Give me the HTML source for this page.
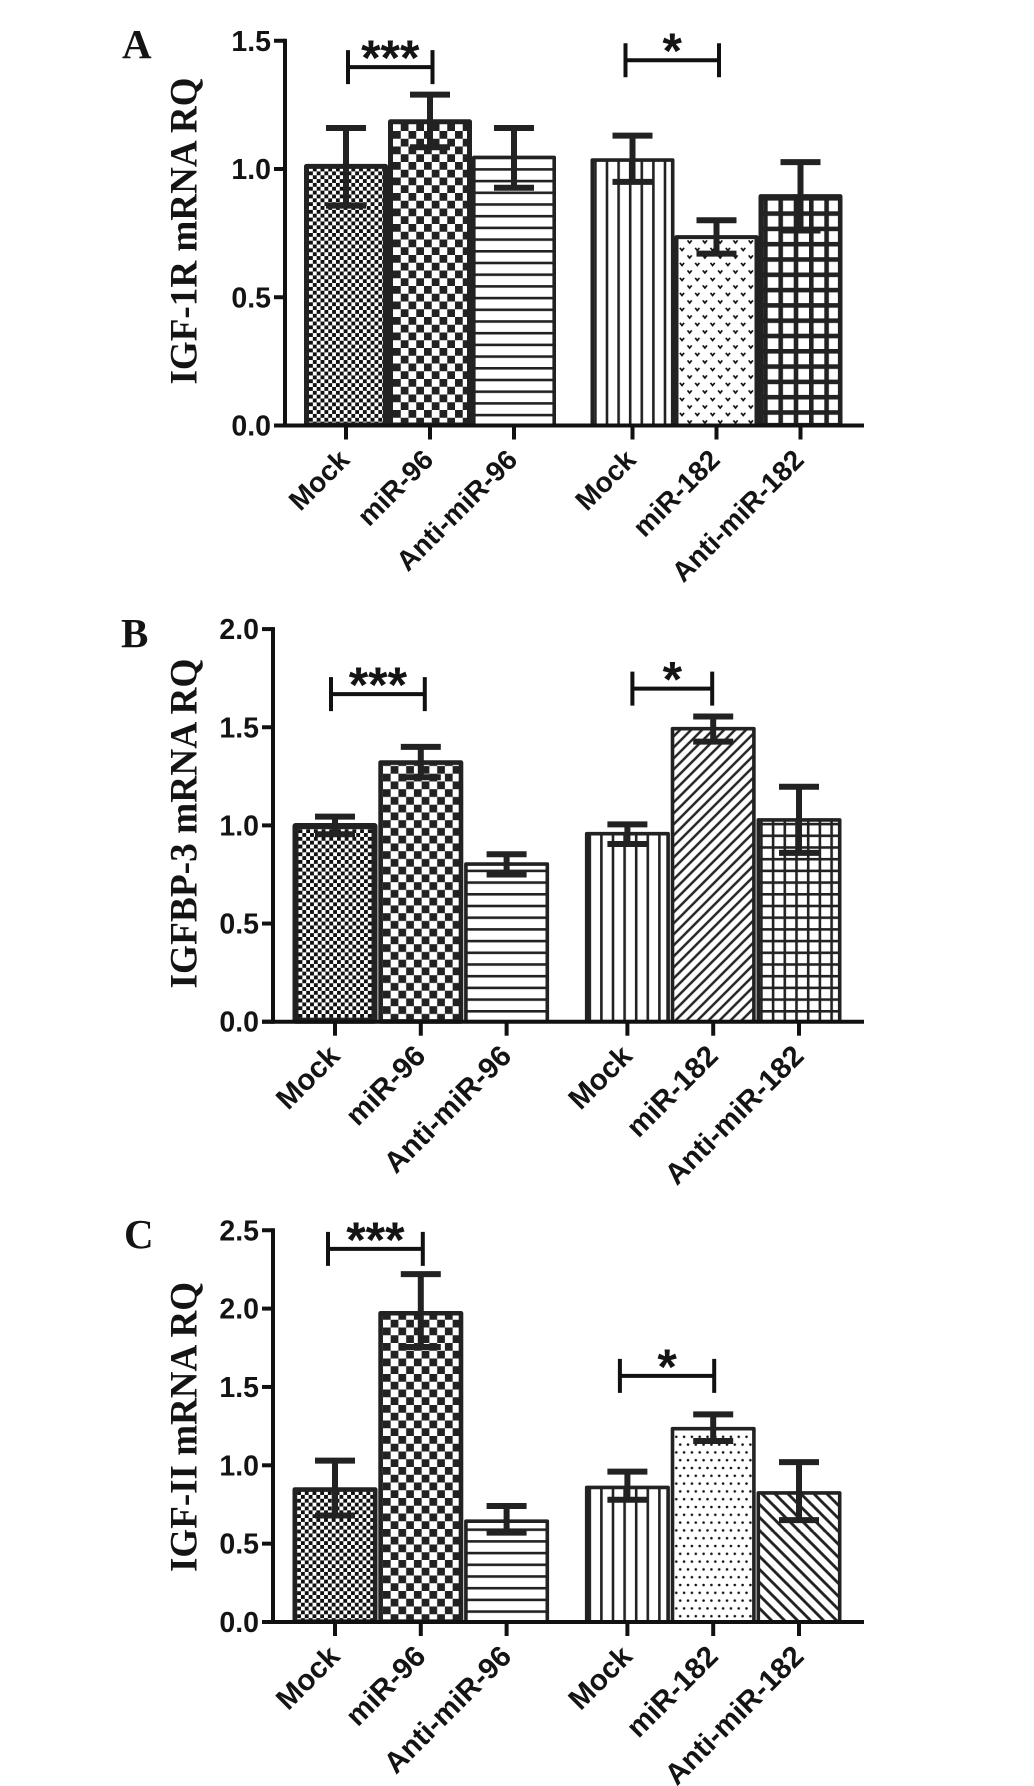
<!DOCTYPE html>
<html lang="en">
<head>
<meta charset="utf-8">
<title>IGF mRNA RQ bar charts</title>
<style>
html,body{margin:0;padding:0;background:#fff;width:1034px;height:1786px;overflow:hidden}
svg{display:block}
.tick{font:bold 28.5px "Liberation Sans",sans-serif;fill:#141414}
.cat{font:bold 28.5px "Liberation Sans",sans-serif;fill:#141414}
.title{font:bold 39px "Liberation Serif",serif;fill:#141414}
.letter{font:bold 41px "Liberation Serif",serif;fill:#141414}
.star{font:bold 50px "Liberation Sans",sans-serif;fill:#141414}
</style>
</head>
<body>
<svg id="figure" xmlns="http://www.w3.org/2000/svg" width="1034" height="1786" viewBox="0 0 1034 1786">
  <defs id="pattern-defs"></defs>
  <rect x="0" y="0" width="1034" height="1786" fill="#fff"/>
  <text class="letter" x="122" y="58">A</text>
  <text class="letter" x="121" y="647">B</text>
  <text class="letter" x="124" y="1248">C</text>
  <g id="panel-a"></g>
  <g id="panel-b"></g>
  <g id="panel-c"></g>
</svg>
<script>
// ---- chart data ----
const categories = ['Mock', 'miR-96', 'Anti-miR-96', 'Mock', 'miR-182', 'Anti-miR-182'];

const igf1rValues  = [1.02, 1.194, 1.052, 1.042, 0.742, 0.902];
const igf1rErrHigh = [1.16, 1.29, 1.16, 1.13, 0.80, 1.027];
const igf1rErrLow  = [0.857, 1.085, 0.927, 0.95, 0.67, 0.76];
const igf1rTicks   = ['0.0', '0.5', '1.0', '1.5'];
const igf1rBrackets = [1.397, 1.424];

const igfbp3Values  = [1.012, 1.332, 0.812, 0.967, 1.502, 1.037];
const igfbp3ErrHigh = [1.045, 1.40, 0.853, 1.005, 1.555, 1.197];
const igfbp3ErrLow  = [0.955, 1.245, 0.75, 0.905, 1.427, 0.86];
const igfbp3Ticks   = ['0.0', '0.5', '1.0', '1.5', '2.0'];
const igfbp3Brackets = [1.669, 1.697];

const igf2Values  = [0.86, 1.985, 0.655, 0.87, 1.245, 0.835];
const igf2ErrHigh = [1.03, 2.22, 0.74, 0.96, 1.325, 1.02];
const igf2ErrLow  = [0.68, 1.755, 0.57, 0.78, 1.155, 0.65];
const igf2Ticks   = ['0.0', '0.5', '1.0', '1.5', '2.0', '2.5'];
const igf2Brackets = [2.381, 1.571];

const bracketStars = ['***', '*'];

// ---- layout ----
const SVGNS = 'http://www.w3.org/2000/svg';
const INK = '#222';
const defs = document.getElementById('pattern-defs');
let patternId = 0;

function make(tag, attrs, parent) {
  const el = document.createElementNS(SVGNS, tag);
  for (const k in attrs) el.setAttribute(k, attrs[k]);
  if (parent) parent.appendChild(el);
  return el;
}

// Pattern painters: each draws one tile
const painters = {
  fineCheck(p) {
    const c = 3.85;
    p.w = p.h = c * 2;
    make('rect', {x: 0, y: 0, width: c, height: c, fill: '#111'}, p.el);
    make('rect', {x: c, y: c, width: c, height: c, fill: '#111'}, p.el);
  },
  coarseCheck(p) {
    const c = 7.75;
    p.w = p.h = c * 2;
    make('rect', {x: 0, y: 0, width: c, height: c, fill: INK}, p.el);
    make('rect', {x: c, y: c, width: c, height: c, fill: INK}, p.el);
  },
  hLines(p) {
    p.w = 12; p.h = 11.7;
    make('rect', {x: 0, y: 0, width: 12, height: 2.6, fill: INK}, p.el);
  },
  vLines(p) {
    p.w = 11.6; p.h = 12;
    make('rect', {x: 0, y: 0, width: 2.6, height: 12, fill: INK}, p.el);
  },
  boldGrid(p) {
    p.w = p.h = 15.3;
    make('rect', {x: 0, y: 0, width: 15.3, height: 4.6, fill: INK}, p.el);
    make('rect', {x: 0, y: 0, width: 4.6, height: 15.3, fill: INK}, p.el);
  },
  fineGrid(p) {
    p.w = p.h = 11.7;
    make('rect', {x: 0, y: 0, width: 11.7, height: 2.6, fill: INK}, p.el);
    make('rect', {x: 0, y: 0, width: 2.6, height: 11.7, fill: INK}, p.el);
  },
  diagUp(p) {
    p.w = p.h = 11;
    make('path', {d: 'M-2 13 L13 -2 M-2 2 L2 -2 M9 13 L13 9', stroke: INK, 'stroke-width': 2.4, fill: 'none'}, p.el);
  },
  diagDown(p) {
    p.w = p.h = 13;
    make('path', {d: 'M-2 -2 L15 15 M-2 11 L2 15 M11 -2 L15 2', stroke: INK, 'stroke-width': 2.9, fill: 'none'}, p.el);
  },
  dots(p) {
    p.w = 7.8; p.h = 15.6;
    make('circle', {cx: 2, cy: 2, r: 1.3, fill: '#111'}, p.el);
    make('circle', {cx: 5.9, cy: 9.8, r: 1.3, fill: '#111'}, p.el);
  },
  vees(p) {
    p.w = 15.3; p.h = 15;
    make('path', {d: 'M1.4 2.4 L3.5 5 L5.6 2.4', stroke: '#111', 'stroke-width': 1.7, fill: 'none'}, p.el);
    make('path', {d: 'M9 9.9 L11.1 12.5 L13.2 9.9', stroke: '#111', 'stroke-width': 1.7, fill: 'none'}, p.el);
  }
};

function patternFor(kind, originX, originY) {
  const id = 'pat' + (patternId++);
  const pat = make('pattern', {id: id, patternUnits: 'userSpaceOnUse'}, defs);
  const tile = {el: pat};
  painters[kind](tile);
  pat.setAttribute('width', tile.w);
  pat.setAttribute('height', tile.h);
  pat.setAttribute('x', originX);
  pat.setAttribute('y', originY);
  return id;
}

function drawPanel(cfg) {
  const g = document.getElementById(cfg.host);
  const yScale = v => cfg.zeroY - v * cfg.unit;
  const xScale = i => cfg.firstX + cfg.step * i + (i >= 3 ? cfg.gap : 0);

  // bars
  categories.forEach((name, i) => {
    const cx = xScale(i);
    const left = cx - cfg.barW / 2;
    const top = yScale(cfg.values[i]);
    const sw = cfg.strokes[i];
    const bottomInset = Math.max(0, sw / 2 - 2);
    const bar = make('rect', {
      x: left + sw / 2, y: top + sw / 2,
      width: cfg.barW - sw, height: cfg.zeroY - top - sw / 2 - bottomInset,
      fill: '#fff'
    }, g);
    
    
    const id = patternFor(cfg.patterns[i], left + sw, cfg.zeroY);
    const hatch = make('rect', {
      x: left + sw / 2, y: top + sw / 2,
      width: cfg.barW - sw, height: cfg.zeroY - top - sw / 2 - bottomInset,
      fill: 'url(#' + id + ')', stroke: INK, 'stroke-width': sw, 'stroke-linejoin': 'round'
    }, g);
    
    
  });

  // error bars
  categories.forEach((name, i) => {
    const cx = xScale(i);
    const hi = yScale(cfg.errHigh[i]);
    const lo = yScale(cfg.errLow[i]);
    const stem = make('line', {x1: cx, x2: cx, y1: hi, y2: lo, stroke: INK, 'stroke-width': 6}, g);
    
    
    const capTop = make('line', {x1: cx - 20, x2: cx + 20, y1: hi, y2: hi, stroke: INK, 'stroke-width': 6}, g);
    
    
    const capLow = make('line', {x1: cx - 20, x2: cx + 20, y1: lo, y2: lo, stroke: INK, 'stroke-width': 6}, g);
    
    
  });

  // axes
  const yAxis = make('line', {x1: cfg.axisX, x2: cfg.axisX, y1: yScale(Number(cfg.ticks[cfg.ticks.length - 1])) - 2, y2: cfg.zeroY + 2, stroke: '#111', 'stroke-width': 4}, g);
  
  
  const xAxis = make('line', {x1: cfg.axisX - 11, x2: 864, y1: cfg.zeroY, y2: cfg.zeroY, stroke: '#111', 'stroke-width': 4}, g);
  
  

  // y ticks
  cfg.ticks.forEach(label => {
    const y = yScale(Number(label));
    const tick = make('line', {x1: cfg.axisX - 11, x2: cfg.axisX, y1: y, y2: y, stroke: '#111', 'stroke-width': 4}, g);
    
    
    const text = make('text', {class: 'tick', x: cfg.axisX - 14, y: y + 10, 'text-anchor': 'end'}, g);
    text.textContent = label;
    
    
  });

  // x ticks + labels
  categories.forEach((name, i) => {
    const cx = xScale(i);
    const tick = make('line', {x1: cx, x2: cx, y1: cfg.zeroY, y2: cfg.zeroY + 14, stroke: '#111', 'stroke-width': 4}, g);
    
    
    const lx = cx + cfg.catDx;
    const ly = cfg.zeroY + 36;
    const text = make('text', {class: 'cat', x: lx, y: ly, 'text-anchor': 'end', transform: 'rotate(-45 ' + lx + ' ' + ly + ')', style: 'font-size:' + cfg.catSize + 'px'}, g);
    text.textContent = name;
    
    
  });

  // y title
  const title = make('text', {
    class: 'title', 'text-anchor': 'middle', x: 0, y: 0,
    textLength: cfg.titleLen, lengthAdjust: 'spacingAndGlyphs',
    transform: 'translate(196.5 ' + cfg.titleY + ') rotate(-90)'
  }, g);
  title.textContent = cfg.title;
  
  

  // significance brackets
  cfg.brackets.forEach((value, k) => {
    const from = xScale(k === 0 ? 0 : 3) + cfg.bracketOffsets[k][0];
    const to = xScale(k === 0 ? 1 : 4) + cfg.bracketOffsets[k][1];
    const y = yScale(value);
    const line = make('path', {
      d: 'M' + from + ' ' + (y - 17) + ' V' + (y + 17) + ' M' + from + ' ' + y + ' H' + to + ' M' + to + ' ' + (y - 17) + ' V' + (y + 17),
      stroke: '#111', 'stroke-width': 4, fill: 'none'
    }, g);
    
    
    const star = make('text', {class: 'star', x: (from + to) / 2, y: y + 8, 'text-anchor': 'middle'}, g);
    star.textContent = bracketStars[k];
    
    
  });
}

drawPanel({
  host: 'panel-a', title: 'IGF-1R mRNA RQ', titleY: 231, titleLen: 307,
  axisX: 285, zeroY: 425.5, unit: 256.5, firstX: 346, step: 84, gap: 34.5, barW: 84, catSize: 28, catDx: 5,
  values: igf1rValues, errHigh: igf1rErrHigh, errLow: igf1rErrLow,
  ticks: igf1rTicks, brackets: igf1rBrackets,
  bracketOffsets: [[2, 2.5], [-7, 2.5]],
  patterns: ['fineCheck', 'coarseCheck', 'hLines', 'vLines', 'vees', 'boldGrid'],
  strokes: [5, 5, 3.6, 3.6, 4, 4.6]
});
drawPanel({
  host: 'panel-b', title: 'IGFBP-3 mRNA RQ', titleY: 823.5, titleLen: 330,
  axisX: 273, zeroY: 1021.7, unit: 196.3, firstX: 335, step: 85.8, gap: 35, barW: 85, catSize: 29.5, catDx: 6.5,
  values: igfbp3Values, errHigh: igfbp3ErrHigh, errLow: igfbp3ErrLow,
  ticks: igfbp3Ticks, brackets: igfbp3Brackets,
  bracketOffsets: [[-4, 4], [5, -1]],
  patterns: ['fineCheck', 'coarseCheck', 'hLines', 'vLines', 'diagUp', 'fineGrid'],
  strokes: [6, 4.6, 3.6, 3.6, 3.6, 3.6]
});
drawPanel({
  host: 'panel-c', title: 'IGF-II mRNA RQ', titleY: 1427, titleLen: 290,
  axisX: 273, zeroY: 1622, unit: 156.7, firstX: 335, step: 85.8, gap: 35, barW: 85, catSize: 29.5, catDx: 6.5,
  values: igf2Values, errHigh: igf2ErrHigh, errLow: igf2ErrLow,
  ticks: igf2Ticks, brackets: igf2Brackets,
  bracketOffsets: [[-7, 2], [-7.5, 1]],
  patterns: ['fineCheck', 'coarseCheck', 'hLines', 'vLines', 'dots', 'diagDown'],
  strokes: [4.6, 4.6, 3.6, 3.6, 3.6, 3.6]
});
</script>
</body>
</html>
